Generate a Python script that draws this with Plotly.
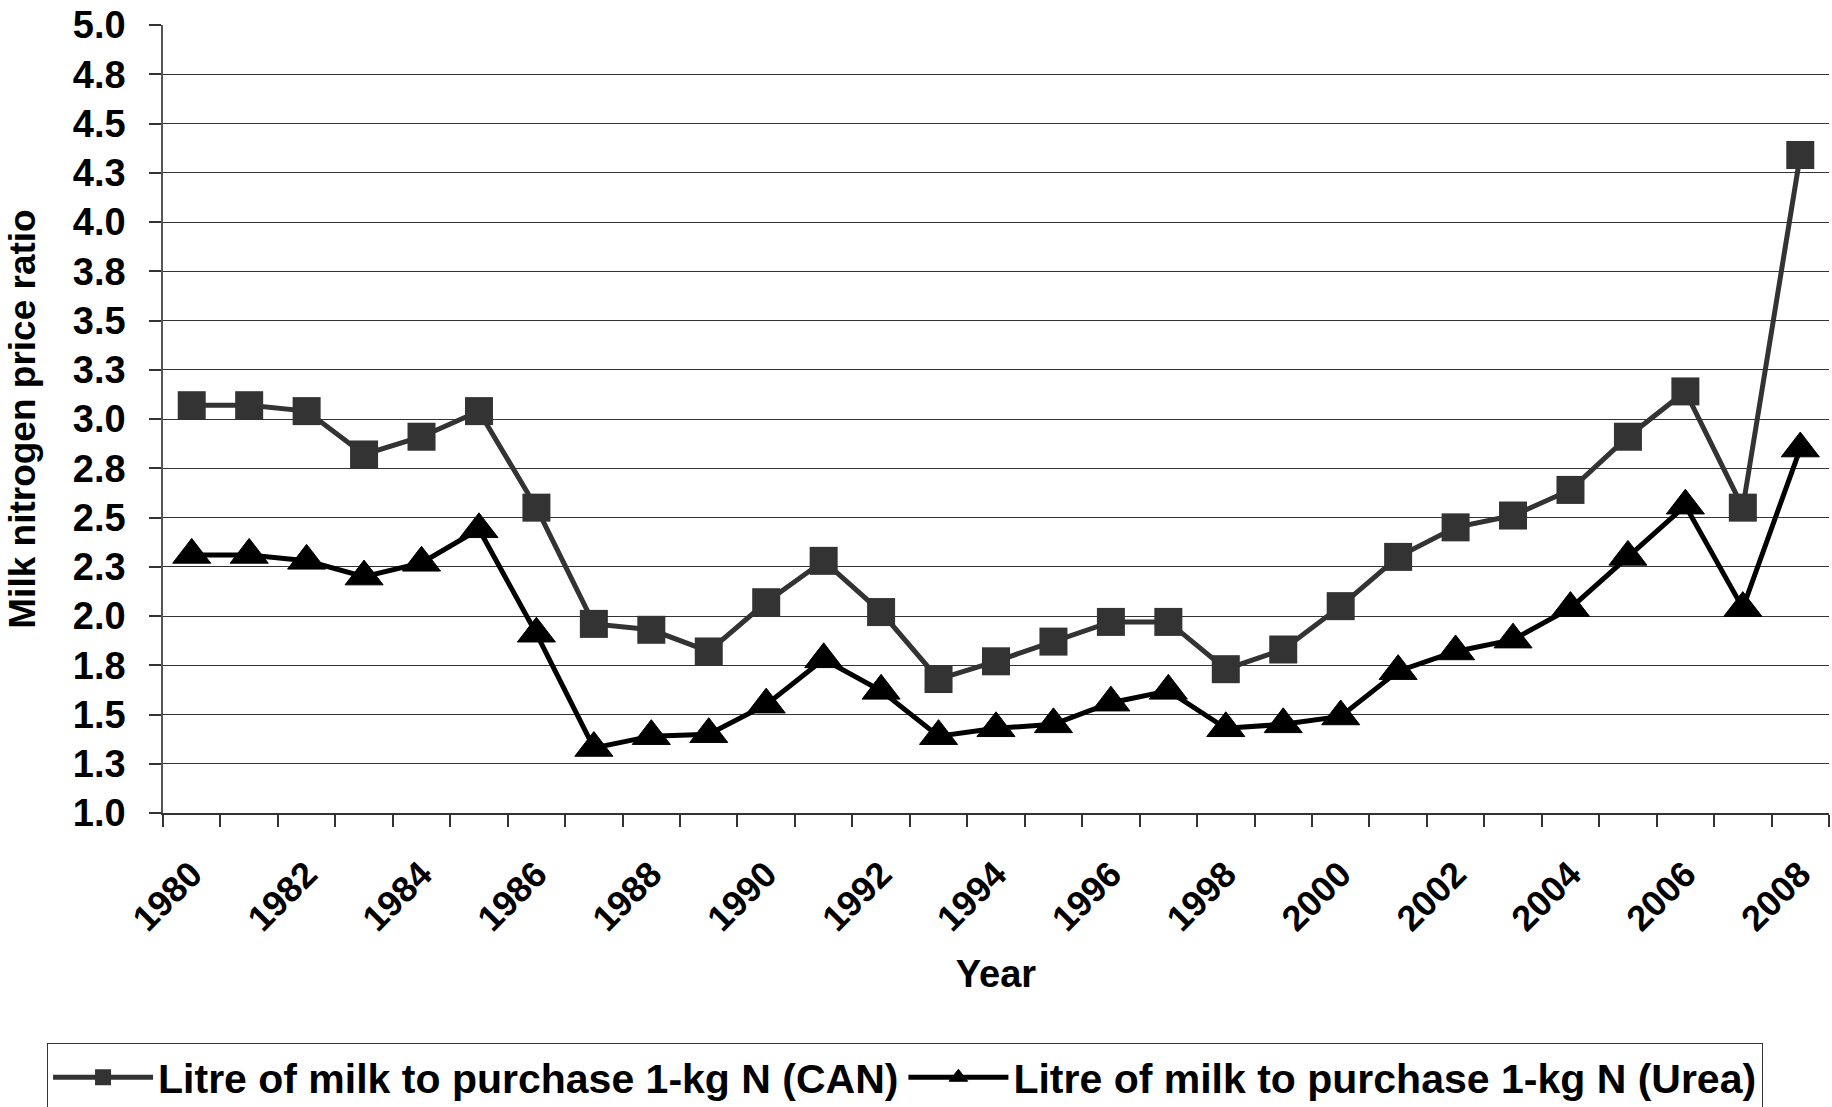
import plotly.graph_objects as go

# Milk-to-nitrogen price ratio, 1980-2008
years = list(range(1980, 2009))

can_ratio = [3.07, 3.07, 3.04, 2.82, 2.91, 3.04, 2.55, 1.96, 1.93, 1.82,
             2.07, 2.28, 2.02, 1.68, 1.77, 1.87, 1.97, 1.97, 1.73, 1.83,
             2.05, 2.30, 2.45, 2.51, 2.64, 2.91, 3.14, 2.55, 4.34]

urea_ratio = [2.31, 2.31, 2.28, 2.20, 2.27, 2.44, 1.91, 1.33, 1.39, 1.40,
              1.55, 1.78, 1.62, 1.39, 1.43, 1.45, 1.56, 1.62, 1.43, 1.45,
              1.49, 1.72, 1.82, 1.88, 2.04, 2.30, 2.56, 2.04, 2.85]

y_tick_vals = [1.0, 1.25, 1.5, 1.75, 2.0, 2.25, 2.5, 2.75, 3.0, 3.25,
               3.5, 3.75, 4.0, 4.25, 4.5, 4.75, 5.0]
y_tick_text = ["1.0", "1.3", "1.5", "1.8", "2.0", "2.3", "2.5", "2.8", "3.0",
               "3.3", "3.5", "3.8", "4.0", "4.3", "4.5", "4.8", "5.0"]
x_tick_vals = years[::2]
x_tick_text = [str(y) for y in x_tick_vals]

FONT = "Liberation Sans, Arial, sans-serif"

# category boundaries carry the small tick marks on the year axis
boundaries = [y - 0.5 for y in years] + [years[-1] + 0.5]

fig = go.Figure()
fig.add_trace(go.Scatter(
    x=years, y=can_ratio, mode="lines+markers",
    name="Litre of milk to purchase 1-kg N (CAN)",
    line=dict(color="#333333", width=5),
    marker=dict(symbol="square", size=28, color="#333333"),
))
fig.add_trace(go.Scatter(
    x=years, y=urea_ratio, mode="lines+markers",
    name="Litre of milk to purchase 1-kg N (Urea)",
    line=dict(color="#000000", width=5),
    marker=dict(symbol="triangle-up", size=33, color="#000000",
                line=dict(color="#000000", width=1)),
))

fig.update_layout(
    width=1832, height=1107,
    margin=dict(l=163, r=3, t=25, b=294, autoexpand=False),
    paper_bgcolor="white", plot_bgcolor="white",
    font=dict(family=FONT, color="black"),
    showlegend=True,
    legend=dict(
        orientation="h",
        # legend box sits below the plot area, starting near the left page edge
        x=-0.0696, xanchor="left",
        y=-0.292, yanchor="top",
        bordercolor="#333333", borderwidth=1,
        font=dict(family=FONT, size=41, color="black", weight="bold"),
        itemwidth=100,
        bgcolor="white",
    ),
)

fig.update_xaxes(
    range=[years[0] - 0.5, years[-1] + 0.5],
    tickmode="array", tickvals=x_tick_vals, ticktext=x_tick_text,
    tickangle=-45, ticks="", ticklabelstandoff=24,
    tickfont=dict(family=FONT, size=36, color="black", weight="bold"),
    showgrid=False, zeroline=False,
    showline=True, linecolor="#333333", linewidth=1.5,
    minor=dict(tickmode="array", tickvals=boundaries, ticks="outside",
               ticklen=12, tickcolor="#333333", tickwidth=1.5, showgrid=False),
    title=dict(text="Year", standoff=22,
               font=dict(family=FONT, size=38, color="black", weight="bold")),
)

fig.update_yaxes(
    range=[1.0, 5.0],
    tickmode="array", tickvals=y_tick_vals, ticktext=y_tick_text,
    ticks="outside", ticklen=12, tickcolor="#333333", tickwidth=1.5,
    ticklabelstandoff=16,
    tickfont=dict(family=FONT, size=38, color="black", weight="bold"),
    showgrid=False, zeroline=False,
    showline=True, linecolor="#555555", linewidth=1.5,
    minor=dict(tickmode="array", tickvals=y_tick_vals[1:-1], ticks="",
               showgrid=True, gridcolor="#333333", gridwidth=1.2),
    title=dict(text="Milk nitrogen price ratio", standoff=26,
               font=dict(family=FONT, size=37, color="black", weight="bold")),
)

fig.write_html("out.html")
